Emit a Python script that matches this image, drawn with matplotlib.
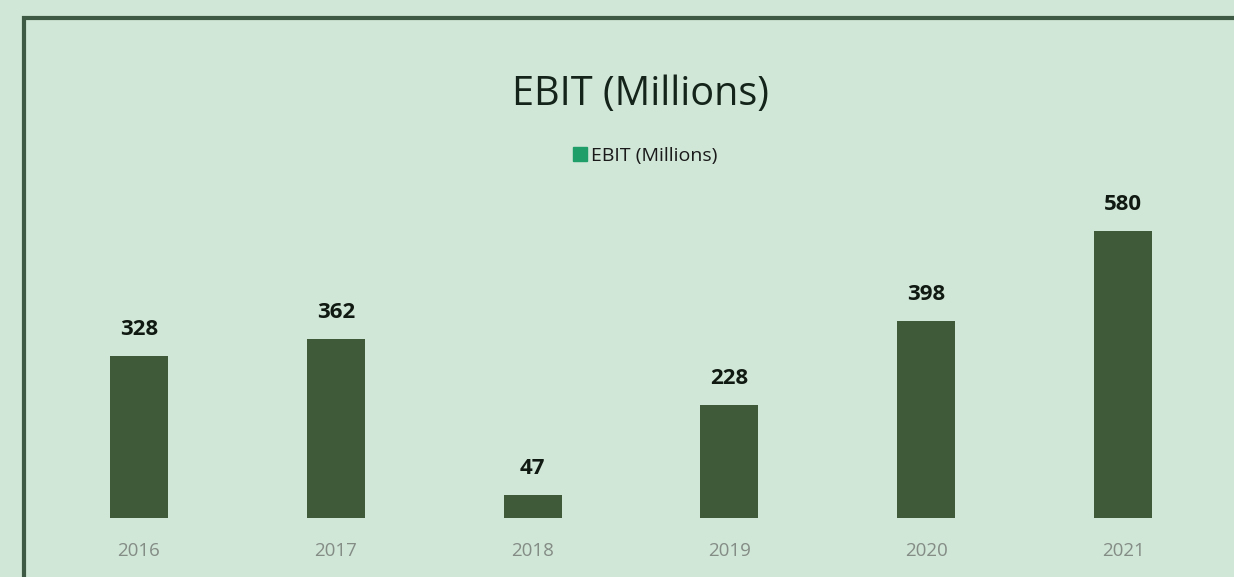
import matplotlib
matplotlib.use("Agg")
import matplotlib.pyplot as plt
from matplotlib.patches import Rectangle
from matplotlib.lines import Line2D

years = ["2016", "2017", "2018", "2019", "2020", "2021"]
ebit = [328, 362, 47, 228, 398, 580]
series_name = "EBIT (Millions)"

bg = "#D0E6D6"
bar_color = "#3F5A38"
border_color = "#3E5A44"

plt.rcParams['font.family'] = ['Open Sans', 'DejaVu Sans']

fig = plt.figure(figsize=(12.34, 5.77), dpi=100, facecolor=bg)

# frame around the chart area, running off the right and bottom edges
fig.patches.append(Rectangle((24 / 1234, -0.1), 1.2, (577 - 18) / 577 + 0.1,
                             transform=fig.transFigure, fill=False,
                             edgecolor=border_color, linewidth=3, zorder=5))

ax = fig.add_axes([40.5 / 1234, (577 - 518) / 577, (1221.5 - 40.5) / 1234, (518 - 200) / 577])
ax.set_facecolor(bg)
x = range(len(years))
bars = ax.bar(x, ebit, width=0.295, color=bar_color, zorder=2)
ax.set_xlim(-0.5, len(years) - 0.5)
ax.set_ylim(0, 580 * 318 / 287)

for xi, v in zip(x, ebit):
    ax.annotate(str(v), (xi, v), xytext=(0, 15), textcoords="offset points",
                ha="center", va="baseline", fontsize=16, fontweight="bold",
                color="#111a12")

ax.set_xticks(list(x))
ax.set_xticklabels(years, color="#848c86", fontsize=13.5)
ax.tick_params(axis="x", length=0, pad=17)
ax.set_yticks([])
for s in ax.spines.values():
    s.set_visible(False)

fig.text(641 / 1234, 1 - 95 / 577, "EBIT (Millions)", ha="center", va="center",
         fontsize=28.5, color="#14241a")

handle = Line2D([], [], marker="s", linestyle="none", markersize=10,
                markerfacecolor="#1F9E6A", markeredgecolor="#1F9E6A")
fig.legend([handle], [series_name], loc="center", bbox_to_anchor=(645 / 1234, 1 - 156 / 577),
           frameon=False, fontsize=14, handletextpad=0.2, handlelength=0.7,
           labelcolor="#1a1a1a")

fig.savefig("out.png", dpi=100, facecolor=bg)
